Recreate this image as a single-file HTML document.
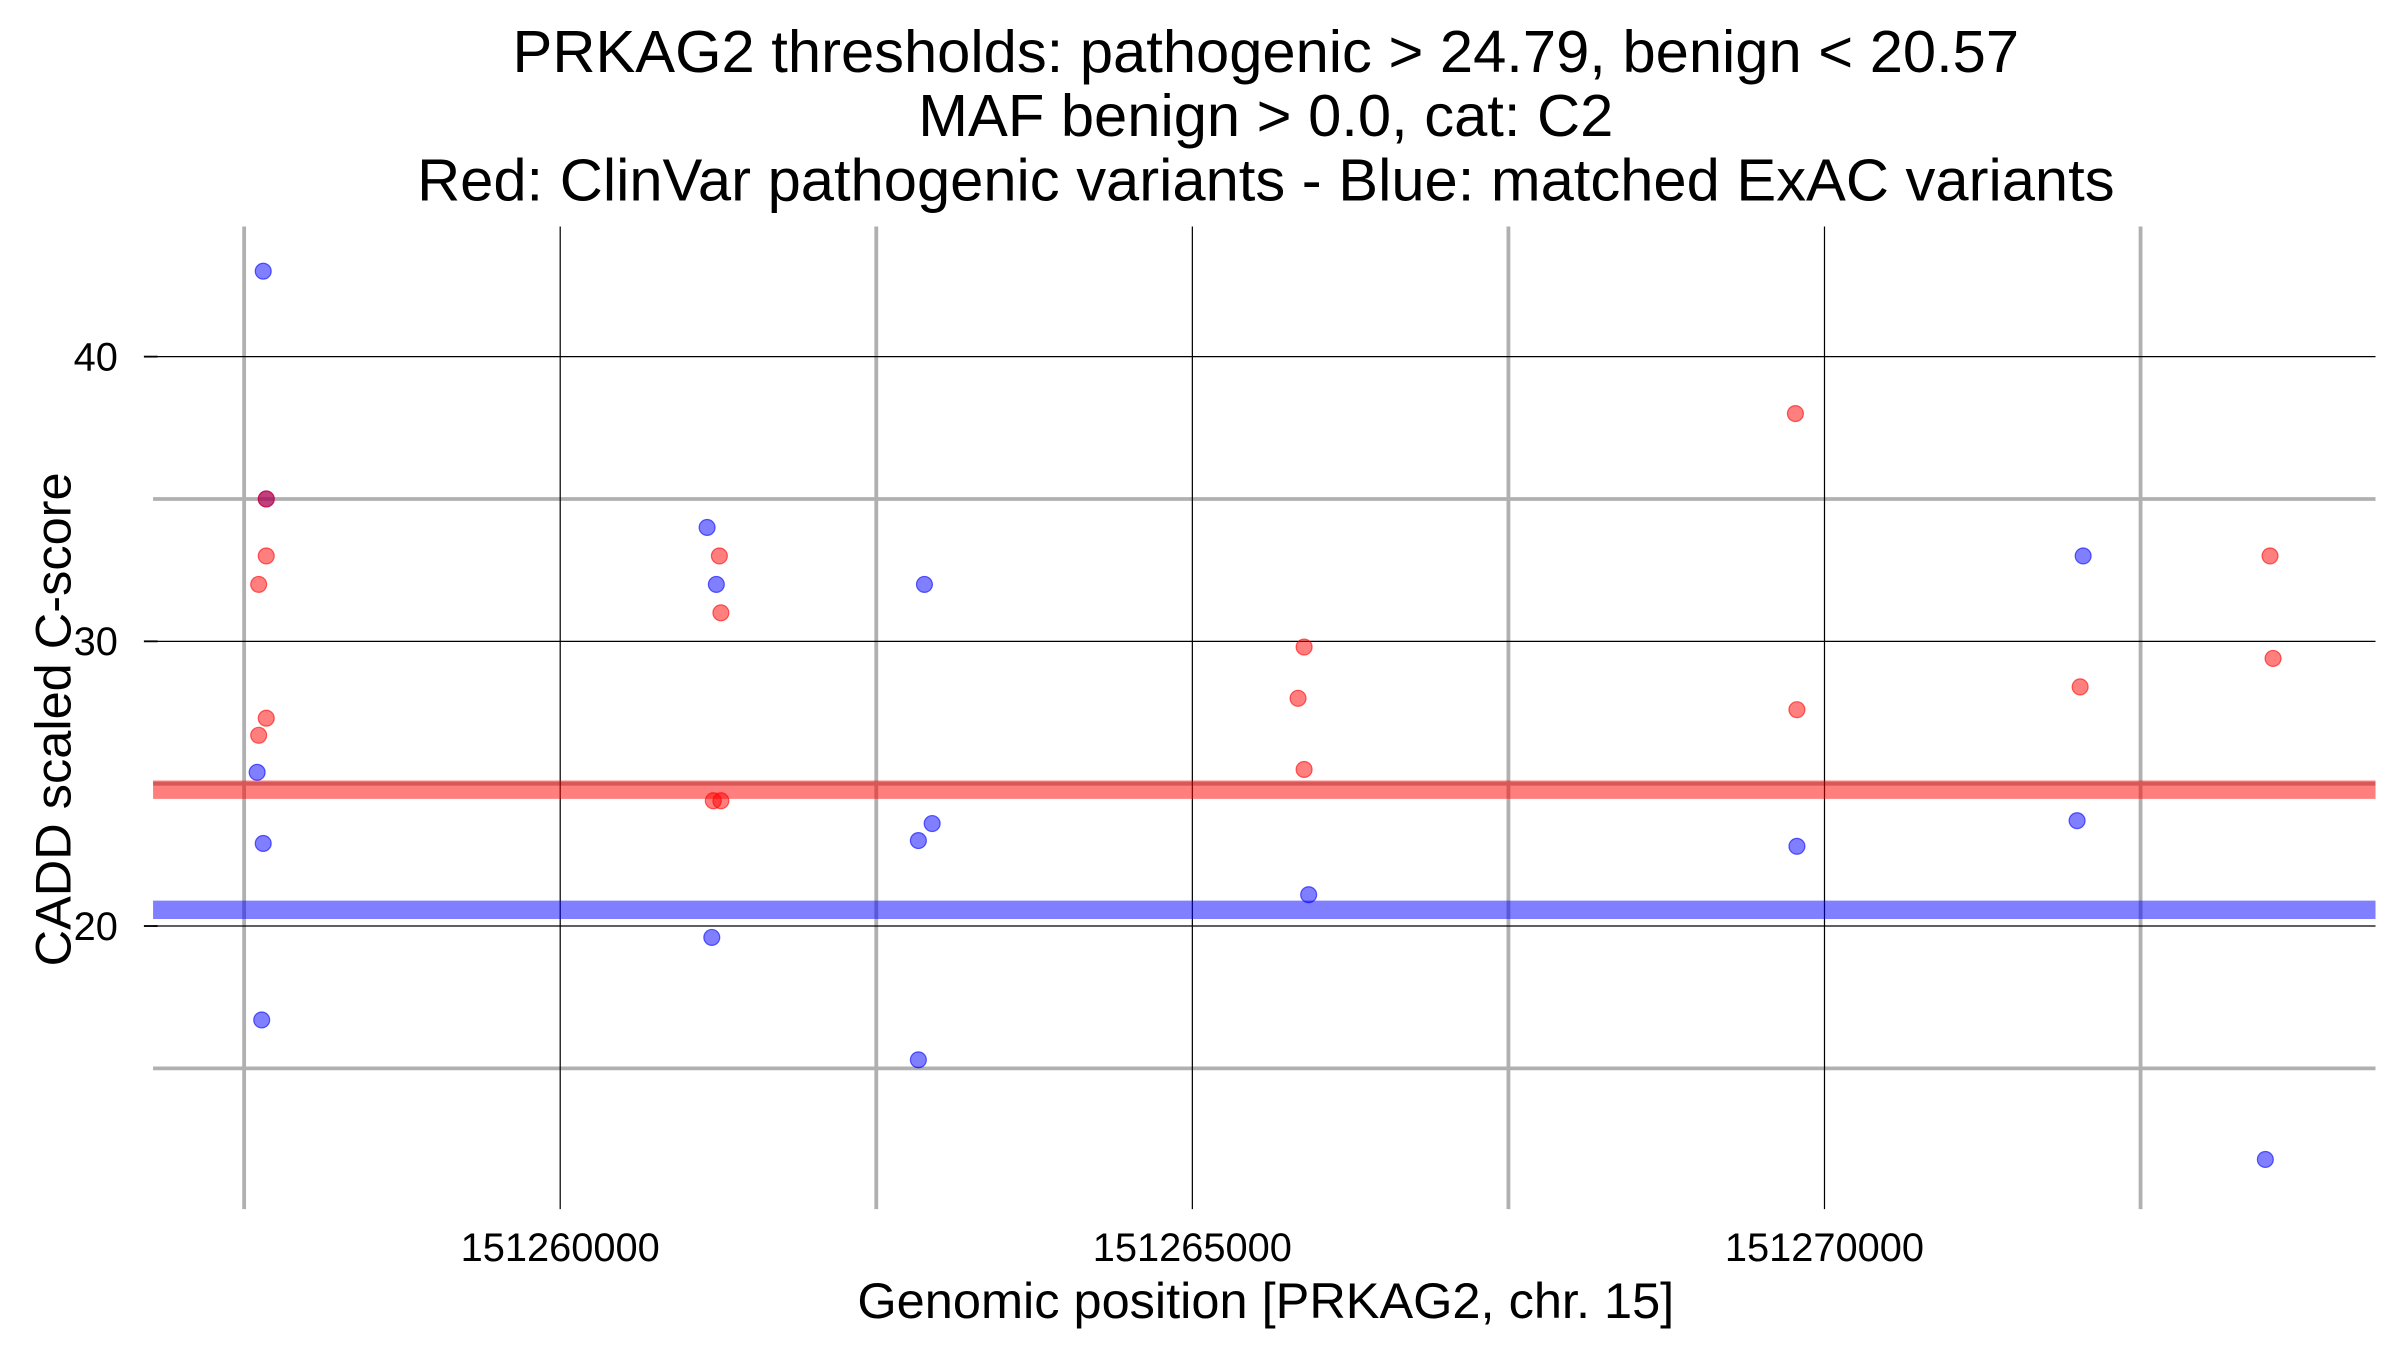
<!DOCTYPE html>
<html><head><meta charset="utf-8"><style>html,body{margin:0;padding:0;background:#fff}svg{display:block}</style></head>
<body>
<svg id="chart" width="2400" height="1350" viewBox="0 0 1568 882" xmlns="http://www.w3.org/2000/svg" font-family="'Liberation Sans', sans-serif">
<g font-size="39" text-anchor="middle" fill="#000">
<text x="827" y="47">PRKAG2 thresholds: pathogenic &gt; 24.79, benign &lt; 20.57</text>
<text x="827" y="89">MAF benign &gt; 0.0, cat: C2</text>
<text x="827" y="131">Red: ClinVar pathogenic variants - Blue: matched ExAC variants</text>
</g>
<g id="grid"></g>
<g id="thr"></g>
<g id="pts"></g>
<g id="axes"></g>
<text x="827" y="861" font-size="33" text-anchor="middle">Genomic position [PRKAG2, chr. 15]</text>
<text transform="translate(46,470) rotate(-90)" font-size="33" text-anchor="middle">CADD scaled C-score</text>
</svg>
<script>
const xMajorTicks=[151260000,151265000,151270000];
const xMinorTicks=[151257500,151262500,151267500,151272500];
const yMajorTicks=[20,30,40];
const yMinorTicks=[15,25,35];
const thresholdPathogenic=24.79;
const thresholdBenign=20.57;
const bluePos=[151257651,151257675,151257603,151257651,151257639,151261162,151261235,151261199,151262881,151262833,151262942,151262833,151265920,151269782,151272046,151271998,151273487];
const blueScore=[43,35,25.4,22.9,16.7,34,32,19.6,32,23,23.6,15.3,21.1,22.8,33,23.7,11.8];
const redPos=[151257675,151257675,151257615,151257675,151257615,151261259,151261271,151261211,151261271,151265884,151265836,151265884,151269770,151269782,151272022,151273524,151273548];
const redScore=[35,33,32,27.3,26.7,33,31,24.4,24.4,29.8,28,25.5,38,27.6,28.4,33,29.4];

const NS="http://www.w3.org/2000/svg";
const X0=100,X1=1552,Y0=148,Y1=790;
function xs(v){return 366+(v-151260000)*413/5000;}
function ys(v){return 233+(40-v)*18.6;}
function mk(tag,attrs,parent){const e=document.createElementNS(NS,tag);for(const k in attrs)e.setAttribute(k,attrs[k]);parent.appendChild(e);return e;}
const grid=document.getElementById('grid'),thr=document.getElementById('thr'),pts=document.getElementById('pts'),axes=document.getElementById('axes');
xMinorTicks.forEach(v=>{const l=mk('line',{x1:xs(v),x2:xs(v),y1:Y0,y2:Y1,stroke:'#b0b0b0','stroke-width':2.5},grid);

});
yMinorTicks.forEach(v=>{const l=mk('line',{x1:X0,x2:X1,y1:ys(v),y2:ys(v),stroke:'#b0b0b0','stroke-width':2.5},grid);

});
xMajorTicks.forEach(v=>{const l=mk('line',{x1:xs(v),x2:xs(v),y1:Y0,y2:Y1,stroke:'#000','stroke-width':0.8},grid);


const t=mk('text',{x:xs(v),y:824,'font-size':26,'text-anchor':'middle'},axes);t.textContent=v;

});
yMajorTicks.forEach(v=>{const l=mk('line',{x1:X0,x2:X1,y1:ys(v),y2:ys(v),stroke:'#000','stroke-width':0.8},grid);


const tk=mk('line',{x1:94,x2:103,y1:ys(v),y2:ys(v),stroke:'#000','stroke-width':1.2},axes);


const t=mk('text',{x:77,y:ys(v)+9,'font-size':26,'text-anchor':'end'},axes);t.textContent=v;

});
const tp=mk('line',{x1:X0,x2:X1,y1:ys(thresholdPathogenic),y2:ys(thresholdPathogenic),stroke:'#ff0000','stroke-opacity':0.5,'stroke-width':12},thr);


const tb=mk('line',{x1:X0,x2:X1,y1:ys(thresholdBenign),y2:ys(thresholdBenign),stroke:'#0000ff','stroke-opacity':0.5,'stroke-width':12},thr);


bluePos.forEach((p,i)=>{const c=mk('circle',{cx:xs(p),cy:ys(blueScore[i]),r:5.2,fill:'#0000ff','fill-opacity':0.5,stroke:'#0000ff','stroke-opacity':0.6,'stroke-width':0.8},pts);

});
redPos.forEach((p,i)=>{const c=mk('circle',{cx:xs(p),cy:ys(redScore[i]),r:5.2,fill:'#ff0000','fill-opacity':0.5,stroke:'#ff0000','stroke-opacity':0.6,'stroke-width':0.8},pts);

});
</script>
</body></html>
